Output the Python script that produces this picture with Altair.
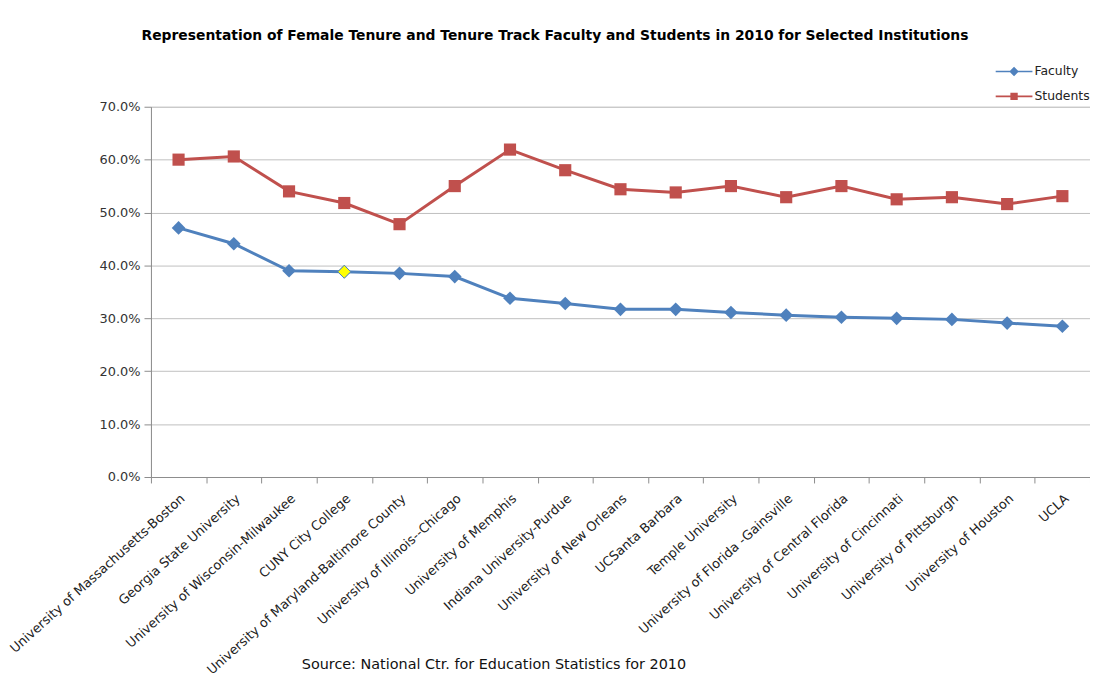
import altair as alt
import pandas as pd

institutions = [
    "University of Massachusetts-Boston",
    "Georgia State University",
    "University of Wisconsin-Milwaukee",
    "CUNY City College",
    "University of Maryland-Baltimore County",
    "University of Illinois--Chicago",
    "University of Memphis",
    "Indiana University-Purdue",
    "University of New Orleans",
    "UCSanta Barbara",
    "Temple University",
    "University of Florida -Gainsville",
    "University of Central Florida",
    "University of Cincinnati",
    "University of Pittsburgh",
    "University of Houston",
    "UCLA",
]
faculty = [0.471, 0.441, 0.390, 0.388, 0.385, 0.379, 0.338, 0.328, 0.317, 0.317,
           0.311, 0.306, 0.302, 0.300, 0.298, 0.291, 0.285]
students = [0.600, 0.606, 0.540, 0.518, 0.478, 0.550, 0.619, 0.580, 0.544, 0.538,
            0.550, 0.529, 0.550, 0.525, 0.529, 0.516, 0.531]
series_names = ["Faculty", "Students"]
series_colors = ["#4F81BD", "#C0504D"]
highlight_inst = "CUNY City College"
y_ticks = [0.0, 0.1, 0.2, 0.3, 0.4, 0.5, 0.6, 0.7]
title_text = ("Representation of Female Tenure and Tenure Track Faculty and "
              "Students in 2010 for Selected Institutions")
source_text = "Source: National Ctr. for Education Statistics for 2010"

rows = []
for inst, f, s in zip(institutions, faculty, students):
    rows.append({"inst": inst, "series": "Faculty", "value": f})
    rows.append({"inst": inst, "series": "Students", "value": s})
df = pd.DataFrame(rows)

FONT = "DejaVu Sans"

x_enc = alt.X(
    "inst:N",
    sort=institutions,
    scale=alt.Scale(type="band", paddingInner=0, paddingOuter=0),
    axis=alt.Axis(
        title=source_text,
        titleX=345, titleY=189, titleAlign="center", titleBaseline="middle",
        titleFont=FONT, titleFontSize=14.5, titleFontWeight="normal", titleColor="#111111",
        labelAngle=-42, labelFont=FONT, labelFontSize=13, labelColor="#222222",
        labelPadding=9, labelLimit=400,
        tickBand="extent", tickSize=6, tickColor="#8c8c8c",
        domainColor="#8c8c8c", grid=False,
    ),
)
y_enc = alt.Y(
    "value:Q",
    scale=alt.Scale(domain=[0, 0.7], nice=False),
    axis=alt.Axis(
        title=None, format=".1%", values=y_ticks,
        labelFont=FONT, labelFontSize=13, labelColor="#333333", labelPadding=4,
        tickSize=7, tickColor="#8c8c8c", domainColor="#8c8c8c",
        gridColor="#bfbfbf", gridWidth=1,
    ),
)
cscale = alt.Scale(domain=series_names, range=series_colors)

base = alt.Chart(df)

lines = base.mark_line(strokeWidth=3).encode(
    x=x_enc, y=y_enc,
    color=alt.Color("series:N", scale=cscale, legend=None),
    detail="series:N",
)
points = base.mark_point(filled=True, opacity=1).encode(
    x=x_enc, y=y_enc,
    color=alt.Color("series:N", scale=cscale, legend=None),
    shape=alt.Shape("series:N", scale=alt.Scale(domain=series_names, range=["diamond", "square"]), legend=None),
    size=alt.Size("series:N", scale=alt.Scale(domain=series_names, range=[190, 150]), legend=None),
)
hl = base.transform_filter(
    (alt.datum.series == "Faculty") & (alt.datum.inst == highlight_inst)
).mark_point(shape="diamond", filled=True, fill="#FFFF00", stroke="#4F81BD",
             strokeWidth=1, size=170, opacity=1).encode(x=x_enc, y=y_enc)

leg_paths = [
    "M-1,-0.045L1,-0.045L1,0.045L-1,0.045Z M0,-0.26L0.26,0L0,0.26L-0.26,0Z",
    "M-1,-0.045L1,-0.045L1,0.045L-1,0.045Z M-0.2,-0.2L0.2,-0.2L0.2,0.2L-0.2,0.2Z",
]
legend_def = alt.Legend(
    title=None, orient="none", legendX=848, legendY=-57,
    symbolSize=1369, symbolStrokeWidth=0, symbolOpacity=1,
    labelFont=FONT, labelFontSize=12.5, labelColor="#222222",
    fillColor="white", padding=3, rowPadding=-3, labelOffset=2,
)
leg = base.transform_filter("false").mark_point(filled=True, opacity=1).encode(
    x=x_enc, y=y_enc,
    color=alt.Color("series:N", scale=cscale, legend=legend_def),
    shape=alt.Shape("series:N", scale=alt.Scale(domain=series_names, range=leg_paths), legend=legend_def),
)

chart = alt.layer(lines, points, hl, leg).resolve_scale(
    color="independent", shape="independent"
).properties(
    width=946, height=373,
    title=alt.Title(title_text, font=FONT, fontSize=14, fontWeight="bold",
                    color="#000000", anchor="middle", dx=-66, offset=7),
    autosize=alt.AutoSizeParams(type="none"),
    padding={"left": 144, "top": 97, "right": 0, "bottom": 200},
).configure_view(stroke=None).configure(background="white")

chart.save("out.html", embed_options={"renderer": "svg", "actions": False})
